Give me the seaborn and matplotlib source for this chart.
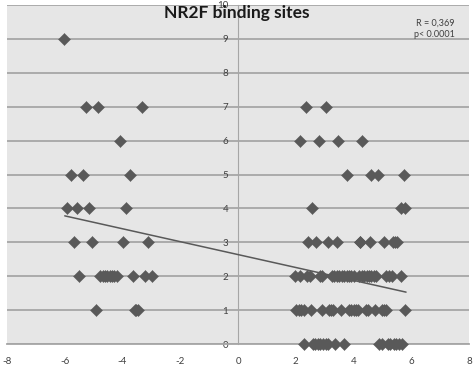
import numpy as np
import pandas as pd
import matplotlib
matplotlib.use("Agg")
import matplotlib.pyplot as plt
import seaborn as sns

# Pixel readings (3x zoom) converted to data space below via the reference axis scale
# --- data values (x, y) ---
x_y9 = [-6.01]
x_y7 = [-5.26, -4.84, -3.33, 2.37, 3.06]
x_y6 = [-4.08, 2.13, 2.81, 3.45, 4.29]
x_y5 = [-5.80, -5.37, -3.75, 3.78, 4.62, 4.85, 5.74]
x_y4 = [-5.91, -5.58, -5.16, -3.87, 2.56, 5.66, 5.78]
x_y3 = [-5.68, -5.05, -3.97, -3.11, 2.44, 2.70, 3.12, 3.43, 4.21, 4.24,
        4.56, 5.05, 5.36, 5.45, 5.52]
x_y2 = [-5.49, -4.77, -4.69, -4.61, -4.53, -4.45, -4.37, -4.29, -4.19,
        -3.65, -3.23, -2.99,
        1.99, 2.13, 2.39, 2.49, 2.83, 2.92, 3.26, 3.34, 3.43, 3.51, 3.59,
        3.68, 3.76, 3.84, 3.92, 4.01, 4.19, 4.29, 4.38, 4.46, 4.54, 4.62,
        4.70, 4.78, 5.13, 5.22, 5.34, 5.63]
x_y1 = [-4.93, -3.58, -3.52, -3.47,
        2.01, 2.10, 2.19, 2.29, 2.53, 2.92, 3.14, 3.22, 3.28, 3.57, 3.84,
        3.93, 4.01, 4.08, 4.16, 4.44, 4.51, 4.76, 4.97, 5.05, 5.13, 5.80]
x_y0 = [2.27, 2.60, 2.68, 2.76, 2.85, 2.94, 3.04, 3.13, 3.35, 3.66,
        4.90, 4.99, 5.20, 5.28, 5.39, 5.48, 5.59, 5.69]

trend_x = [-6.0, 5.82]
trend_y = [3.78, 1.53]

title = "NR2F binding sites"
stats_text = "R = 0,369\np< 0.0001"
x_ticks = [-8, -6, -4, -2, 0, 2, 4, 6, 8]
y_ticks = list(range(0, 11))

rows = []
for yv, xs in [(9, x_y9), (7, x_y7), (6, x_y6), (5, x_y5), (4, x_y4),
               (3, x_y3), (2, x_y2), (1, x_y1), (0, x_y0)]:
    for xv in xs:
        rows.append((xv, yv))
df = pd.DataFrame(rows, columns=["x", "y"])

sns.set_style("white")
plt.rcParams["font.family"] = ["Lato", "DejaVu Sans"]

fig = plt.figure(figsize=(4.74, 3.65), dpi=100)
fig.patch.set_facecolor("white")
ax = fig.add_axes([7 / 474, 21 / 365, 462 / 474, 339 / 365])
ax.set_facecolor("#e6e6e6")

ax.set_xlim(-8, 8)
ax.set_ylim(0, 10)
ax.set_xticks(x_ticks)
ax.set_yticks(y_ticks)
ax.yaxis.grid(True, color="#a6a6a6", linewidth=1.3)
ax.set_axisbelow(True)

for s in ["top", "right"]:
    ax.spines[s].set_visible(False)
ax.spines["left"].set_position(("data", 0))
ax.spines["left"].set_color("#a6a6a6")
ax.spines["left"].set_linewidth(0.8)
ax.spines["bottom"].set_color("#a6a6a6")
ax.spines["bottom"].set_linewidth(1.3)

ax.tick_params(axis="x", direction="out", length=3, color="#a6a6a6",
               labelsize=7, labelcolor="#404040", pad=6)
ax.tick_params(axis="y", direction="out", length=0, labelsize=7,
               labelcolor="#404040", pad=7)
ax.set_xticklabels([str(t) for t in x_ticks])
ax.set_yticklabels([str(t) for t in y_ticks])

sns.scatterplot(data=df, x="x", y="y", marker="D", s=38, color="#595959",
                edgecolor="#595959", linewidth=0.3, ax=ax, zorder=3,
                clip_on=False)
ax.plot(trend_x, trend_y, color="#595959", linewidth=1.1, zorder=4)

ax.set_xlabel("")
ax.set_ylabel("")

fig.text(0.5, 1 - 13 / 365, title, ha="center", va="center",
         fontsize=12.5, fontweight="bold", color="#1a1a1a")
fig.text(455 / 474, 1 - 29 / 365, stats_text, ha="right", va="center",
         fontsize=6.5, color="#404040", linespacing=1.4)

fig.savefig("out.png", dpi=100)
